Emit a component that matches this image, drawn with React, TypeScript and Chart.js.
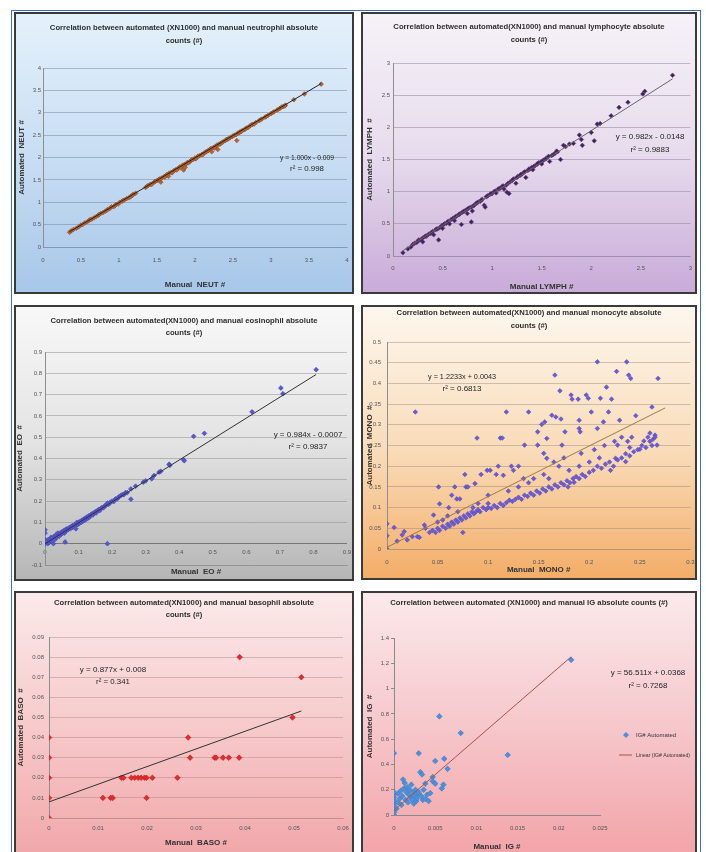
import React, { useEffect, useRef } from "react";
import { Chart, registerables } from "chart.js";
Chart.register(...registerables);

const FONT = '"Liberation Sans Narrow", "Liberation Sans", Arial, sans-serif';

// ---------- DATA ----------
const neutManual = [0.35,0.37,0.44,0.47,0.55,0.58,0.61,0.64,0.67,0.7,0.73,0.76,0.79,0.82,0.85,0.88,0.9,0.93,0.96,0.99,1.01,1.04,1.07,1.1,1.13,1.16,1.19,1.22,1.35,1.38,1.41,1.44,1.47,1.5,1.52,1.55,1.56,1.59,1.62,1.65,1.66,1.69,1.72,1.75,1.78,1.8,1.83,1.85,1.86,1.88,1.9,1.93,1.95,1.98,2.0,2.03,2.06,2.09,2.12,2.15,2.18,2.2,2.22,2.24,2.27,2.3,2.31,2.34,2.37,2.4,2.43,2.46,2.49,2.52,2.55,2.56,2.59,2.62,2.65,2.68,2.72,2.76,2.8,2.84,2.88,2.92,2.96,3.0,3.04,3.08,3.12,3.16,3.19,3.3,3.44,3.66,
  0.4,0.5,0.52,0.62,0.74,0.84,0.95,1.05,1.15,1.18,1.37,1.43,1.48,1.53,1.6,1.63,1.7,1.73,1.76,1.81,1.84,1.87,1.91,1.96,2.01,2.04,2.1,2.14,2.17,2.21,2.26,2.29,2.33,2.36,2.41,2.44,2.5,2.54,2.58,2.61,2.66,2.7,2.74,2.78,2.86,2.94,3.02,3.1,3.14,3.18];
const neutAuto = [0.33,0.36,0.42,0.45,0.54,0.56,0.6,0.62,0.65,0.68,0.71,0.75,0.77,0.8,0.84,0.86,0.9,0.9,0.95,0.96,1.0,1.02,1.05,1.08,1.1,1.14,1.18,1.2,1.33,1.37,1.4,1.42,1.46,1.48,1.5,1.45,1.54,1.57,1.6,1.58,1.65,1.67,1.7,1.73,1.76,1.79,1.8,1.72,1.84,1.85,1.89,1.9,1.94,1.96,1.99,2.01,2.04,2.07,2.1,2.13,2.16,2.19,2.13,2.22,2.25,2.18,2.29,2.32,2.35,2.38,2.41,2.44,2.47,2.5,2.38,2.54,2.57,2.6,2.62,2.66,2.7,2.74,2.78,2.82,2.86,2.9,2.94,2.98,3.02,3.06,3.1,3.14,3.17,3.29,3.42,3.64,
  0.39,0.49,0.5,0.61,0.73,0.82,0.93,1.04,1.12,1.16,1.36,1.4,1.47,1.52,1.56,1.62,1.66,1.71,1.72,1.77,1.83,1.78,1.88,1.95,1.97,2.03,2.06,2.12,2.15,2.2,2.21,2.28,2.3,2.34,2.4,2.42,2.48,2.51,2.55,2.58,2.64,2.67,2.73,2.75,2.84,2.92,3.0,3.08,3.13,3.15];
const neutTrendX = [0.35, 3.66];
const neutTrendY = [0.341, 3.651];

const lymphManual = [0.1,0.15,0.18,0.2,0.22,0.24,0.26,0.28,0.3,0.3,0.32,0.34,0.36,0.38,0.4,0.41,0.43,0.45,0.46,0.47,0.49,0.5,0.52,0.54,0.56,0.57,0.59,0.61,0.62,0.64,0.66,0.68,0.69,0.7,0.72,0.74,0.75,0.77,0.79,0.79,0.8,0.82,0.84,0.86,0.88,0.9,0.92,0.93,0.94,0.96,0.98,1.0,1.02,1.04,1.06,1.08,1.1,1.12,1.14,1.15,1.17,1.18,1.2,1.22,1.24,1.26,1.28,1.3,1.32,1.34,1.36,1.38,1.4,1.41,1.43,1.45,1.47,1.49,1.5,1.52,1.55,1.58,1.6,1.63,1.66,1.69,1.72,1.74,1.78,1.82,1.88,1.9,1.91,2.0,2.03,2.06,2.09,2.2,2.28,2.37,2.52,2.54,2.82,
  0.25,0.33,0.39,0.44,0.51,0.55,0.6,0.63,0.67,0.71,0.76,0.81,0.85,0.89,0.95,0.99,1.03,1.07,1.11,1.16,1.21,1.25,1.29,1.33,1.37,1.42,1.46,1.51,1.54,1.57,1.62,1.65];
const lymphAuto = [0.05,0.11,0.14,0.18,0.2,0.21,0.25,0.25,0.28,0.22,0.3,0.31,0.34,0.35,0.38,0.33,0.41,0.42,0.25,0.44,0.47,0.43,0.5,0.51,0.54,0.5,0.57,0.59,0.55,0.62,0.64,0.66,0.49,0.68,0.7,0.72,0.66,0.75,0.53,0.76,0.7,0.79,0.82,0.84,0.85,0.88,0.79,0.76,0.92,0.94,0.96,0.97,1.0,0.98,1.04,1.05,1.08,1.04,1.1,0.99,0.97,1.15,1.17,1.2,1.13,1.24,1.25,1.27,1.3,1.22,1.33,1.35,1.38,1.34,1.4,1.42,1.45,1.46,1.43,1.49,1.52,1.47,1.56,1.59,1.62,1.5,1.72,1.7,1.74,1.75,1.88,1.81,1.72,1.92,1.79,2.05,2.06,2.18,2.31,2.39,2.52,2.56,2.81,
  0.23,0.31,0.37,0.42,0.49,0.53,0.58,0.61,0.65,0.69,0.74,0.78,0.83,0.87,0.93,0.97,1.01,1.05,1.09,1.13,1.19,1.22,1.27,1.31,1.35,1.39,1.44,1.48,1.51,1.55,1.58,1.63];
const lymphTrendX = [0.1, 2.82];
const lymphTrendY = [0.083, 2.754];

const eoManual = [0,0,0,0,0.005,0.008,0.01,0.012,0.015,0.018,0.02,0.022,0.025,0.027,0.03,0.032,0.035,0.038,0.04,0.042,0.045,0.048,0.05,0.052,0.055,0.058,0.06,0.06,0.063,0.065,0.068,0.07,0.072,0.075,0.078,0.08,0.082,0.085,0.088,0.09,0.092,0.095,0.098,0.1,0.102,0.105,0.108,0.11,0.113,0.115,0.118,0.12,0.123,0.125,0.128,0.13,0.133,0.136,0.14,0.143,0.146,0.15,0.153,0.156,0.16,0.163,0.166,0.17,0.174,0.178,0.182,0.186,0.186,0.19,0.195,0.2,0.205,0.21,0.215,0.22,0.225,0.23,0.235,0.24,0.245,0.256,0.256,0.27,0.293,0.3,0.318,0.325,0.34,0.345,0.37,0.372,0.413,0.415,0.443,0.475,0.617,0.703,0.709,0.808];
const eoAuto = [0.0,0.02,0.05,0.065,0.01,0.0,0.02,0.005,0.015,0.03,0.01,0.025,0.0,0.035,0.02,0.04,0.03,0.05,0.04,0.035,0.05,0.045,0.055,0.048,0.06,0.05,0.008,0.065,0.06,0.07,0.065,0.07,0.075,0.07,0.08,0.075,0.085,0.08,0.09,0.085,0.07,0.1,0.09,0.1,0.095,0.105,0.1,0.11,0.105,0.115,0.11,0.12,0.115,0.125,0.12,0.13,0.125,0.135,0.14,0.135,0.145,0.15,0.145,0.155,0.16,0.155,0.165,0.17,0.168,0.178,0.18,0.0,0.19,0.185,0.195,0.2,0.198,0.21,0.21,0.22,0.225,0.23,0.23,0.24,0.24,0.209,0.257,0.27,0.289,0.295,0.305,0.32,0.336,0.34,0.373,0.368,0.394,0.39,0.504,0.518,0.619,0.731,0.704,0.817];
const eoTrendX = [0, 0.808];
const eoTrendY = [-0.0007, 0.7944];

const monoManual = [0,0,0,0.007,0.01,0.015,0.017,0.02,0.028,0.037,0.038,0.042,0.046,0.051,0.052,0.061,0.064,0.067,0.069,0.072,0.077,0.078,0.08,0.087,0.089,0.093,0.099,0.102,0.1,0.108,0.11,0.115,0.112,0.114,0.118,0.123,0.125,0.13,0.136,0.14,0.135,0.149,0.149,0.153,0.156,0.158,0.155,0.158,0.163,0.166,0.167,0.171,0.173,0.172,0.176,0.182,0.183,0.189,0.19,0.19,0.191,0.192,0.179,0.185,0.197,0.199,0.202,0.208,0.208,0.211,0.214,0.217,0.221,0.222,0.219,0.227,0.226,0.23,0.228,0.237,0.239,0.241,0.236,0.246,0.25,0.254,0.262,0.267,0.268,
  0.16,0.17,0.18,0.2,0.21,0.19,0.165,0.175,0.205,0.215,0.225,0.232,0.238,0.24,0.242,0.258,0.26,0.263,0.265,0.12,0.13,0.14,0.145,0.155,0.1,0.09,0.085,0.07,0.06,0.055,0.05,0.03,0.032,0.025,
  0.045,0.048,0.05,0.052,0.055,0.058,0.06,0.062,0.064,0.066,0.068,0.07,0.072,0.074,0.075,0.076,0.078,0.08,0.082,0.084,0.086,0.088,0.09,0.092,0.095,0.098,0.1,0.103,0.106,0.109,0.112,0.115,0.118,0.121,0.124,0.127,0.13,0.133,0.136,0.139,0.142,0.145,0.148,0.151,0.154,0.157,0.16,0.163,0.166,0.169,0.172,0.175,0.178,0.181,0.184,0.187,0.19,0.193,0.196,0.2,0.204,0.208,0.212,0.216,0.22,0.224,0.228,0.232,0.236,0.24,0.244,0.248,0.252,0.256,0.26,0.262,0.265];
const monoAuto = [0,0.061,0.032,0.052,0.019,0.034,0.042,0.022,0.331,0.058,0.05,0.04,0.082,0.15,0.109,0.1,0.13,0.15,0.121,0.121,0.18,0.15,0.15,0.158,0.268,0.18,0.19,0.19,0.13,0.18,0.2,0.178,0.268,0.268,0.331,0.2,0.19,0.2,0.251,0.331,0.17,0.251,0.283,0.301,0.307,0.267,0.231,0.219,0.323,0.42,0.319,0.382,0.251,0.314,0.283,0.372,0.362,0.362,0.311,0.291,0.283,0.231,0.15,0.161,0.372,0.364,0.331,0.291,0.452,0.364,0.307,0.391,0.19,0.362,0.331,0.429,0.219,0.311,0.251,0.452,0.42,0.412,0.211,0.322,0.241,0.261,0.343,0.251,0.412,
  0.17,0.2,0.19,0.21,0.22,0.2,0.21,0.22,0.24,0.25,0.26,0.27,0.26,0.245,0.27,0.27,0.28,0.265,0.275,0.14,0.15,0.16,0.17,0.18,0.11,0.11,0.1,0.09,0.08,0.07,0.065,0.03,0.028,0.03,
  0.045,0.04,0.05,0.045,0.055,0.05,0.06,0.055,0.065,0.06,0.07,0.065,0.075,0.07,0.04,0.08,0.075,0.085,0.08,0.09,0.085,0.09,0.095,0.09,0.1,0.095,0.1,0.098,0.105,0.1,0.11,0.105,0.112,0.118,0.115,0.12,0.125,0.12,0.13,0.127,0.135,0.13,0.14,0.135,0.145,0.14,0.15,0.145,0.155,0.15,0.16,0.155,0.165,0.16,0.17,0.175,0.17,0.18,0.175,0.185,0.19,0.2,0.195,0.205,0.21,0.2,0.215,0.22,0.23,0.225,0.235,0.24,0.25,0.245,0.26,0.25,0.27];
const monoTrendX = [0, 0.275];
const monoTrendY = [0.0043, 0.3407];

const basoManual = [0,0,0,0,0,0.011,0.0126,0.013,0.0199,0.0148,0.0152,0.0168,0.0175,0.0182,0.0188,0.0195,0.0199,0.0211,0.0262,0.0284,0.0288,0.0338,0.0341,0.0355,0.0367,0.0388,0.0389,0.0497,0.0515];
const basoAuto = [0,0.01,0.02,0.03,0.04,0.01,0.01,0.01,0.01,0.02,0.02,0.02,0.02,0.02,0.02,0.02,0.02,0.02,0.02,0.04,0.03,0.03,0.03,0.03,0.03,0.03,0.08,0.05,0.07];
const basoTrendX = [0, 0.0515];
const basoTrendY = [0.008, 0.0532];

const igManual = [0,0,0,0,0,0,0,0,0,0,0,0.0003,0.0005,0.0005,0.0007,0.0008,0.0009,0.001,0.0011,0.0012,0.0013,0.0014,0.0015,0.0016,0.0017,0.0018,0.0019,0.002,0.0021,0.0022,0.0023,0.0024,0.0025,0.0026,0.0027,0.0028,0.0029,0.003,0.003,0.0032,0.0033,0.0034,0.0035,0.0036,0.0038,0.0038,0.004,0.0042,0.0044,0.0047,0.0047,0.005,0.005,0.0055,0.0058,0.006,0.0061,0.0065,0.0081,0.0138,0.0215];
const igAuto = [0.0,0.02,0.04,0.06,0.08,0.1,0.12,0.14,0.16,0.18,0.488,0.05,0.1,0.17,0.13,0.19,0.08,0.15,0.28,0.21,0.253,0.12,0.18,0.22,0.1,0.16,0.2,0.14,0.24,0.12,0.18,0.09,0.15,0.2,0.11,0.133,0.17,0.181,0.488,0.339,0.15,0.32,0.12,0.2,0.248,0.128,0.16,0.11,0.173,0.301,0.267,0.248,0.427,0.78,0.21,0.24,0.445,0.365,0.648,0.475,1.227];
const igTrendX = [0, 0.0215];
const igTrendY = [0.0368, 1.2518];

// ---------- PANELS ----------
type Cfg = any;

const panels: Cfg[] = [
  {
    key: "neut", box: [14, 12, 340, 282],
    bg: "linear-gradient(to bottom, #e4f1fb 0%, #c9def3 50%, #a7c7e9 100%)",
    title: ["Correlation between automated (XN1000) and manual neutrophil absolute", "counts (#)"],
    titleC1: 14, titleLH: 13,
    xTitle: "Manual  NEUT #", yTitle: "Automated  NEUT #",
    x: [0, 4, 0.5], y: [0, 4, 0.5],
    area: { l: 27, r: 331, t: 54, b: 233 },
    xTickC: 246, xTitleC: 271, yTitleCx: 6, yTickRight: 25,
    xs: neutManual, ys: neutAuto, tx: neutTrendX, ty: neutTrendY,
    pColor: "#b8642e", pBorder: "#8c4a22", pRadius: 2.3, tColor: "#222",
    grid: "rgba(120,140,170,0.55)",
    eq: { x: 291, ys: [144, 155], w: [54, 34], lines: ["y = 1.000x - 0.009", "r\u00b2 = 0.998"] },
  },
  {
    key: "lymph", box: [361, 12, 336, 282],
    bg: "linear-gradient(to bottom, #f6f2f8 0%, #e7dced 50%, #c9abd9 100%)",
    title: ["Correlation between automated(XN1000) and manual lymphocyte absolute", "counts (#)"],
    titleC1: 13, titleLH: 13,
    xTitle: "Manual LYMPH #", yTitle: "Automated  LYMPH  #",
    x: [0, 3, 0.5], y: [0, 3, 0.5],
    area: { l: 30, r: 328, t: 49, b: 242 },
    xTickC: 254, xTitleC: 273, yTitleCx: 7, yTickRight: 27,
    xs: lymphManual, ys: lymphAuto, tx: lymphTrendX, ty: lymphTrendY,
    pColor: "#2c2868", pBorder: "#8a3a66", pRadius: 2.3, tColor: "#666",
    grid: "rgba(140,130,160,0.5)",
    eq: { x: 287, ys: [123, 136], w: [70, 40], lines: ["y = 0.982x - 0.0148", "r\u00b2 = 0.9883"] },
  },
  {
    key: "eo", box: [14, 305, 340, 276],
    bg: "linear-gradient(to bottom, #f8f8f8 0%, #e3e3e3 50%, #b6b6b6 100%)",
    title: ["Correlation between automated(XN1000) and manual eosinophil absolute", "counts (#)"],
    titleC1: 14, titleLH: 12,
    xTitle: "Manual  EO #", yTitle: "Automated  EO  #",
    x: [0, 0.9, 0.1], y: [-0.1, 0.9, 0.1],
    area: { l: 29, r: 331, t: 45, b: 258 },
    xTickC: 245, xTickMirror: true, xTitleC: 265, yTitleCx: 4, yTickRight: 26,
    xs: eoManual, ys: eoAuto, tx: eoTrendX, ty: eoTrendY,
    pColor: "#5757d2", pBorder: "#4343b0", pRadius: 2.4, tColor: "#333",
    grid: "rgba(130,130,130,0.45)", zeroLine: "#777",
    eq: { x: 292, ys: [128, 140], w: [74, 40], lines: ["y = 0.984x - 0.0007", "r\u00b2 = 0.9837"] },
  },
  {
    key: "mono", box: [361, 305, 336, 275],
    bg: "linear-gradient(to bottom, #fdf7ee 0%, #f9dab6 55%, #f3ad68 100%)",
    title: ["Correlation between automated(XN1000) and manual monocyte absolute", "counts (#)"],
    titleC1: 6, titleLH: 12.5,
    xTitle: "Manual  MONO #", yTitle: "Automated  MONO  #",
    x: [0, 0.3, 0.05], y: [0, 0.5, 0.05],
    area: { l: 24, r: 330, t: 35, b: 242 },
    xTickC: 255, xTitleC: 263, yTitleCx: 7, yTickRight: 18,
    xs: monoManual, ys: monoAuto, tx: monoTrendX, ty: monoTrendY,
    pColor: "#6a5cd2", pBorder: "#5646bd", pRadius: 2.3, tColor: "#9a7a4c",
    grid: "rgba(150,135,120,0.45)",
    eq: { x: 99, ys: [70, 82], w: [68, 40], lines: ["y = 1.2233x + 0.0043", "r\u00b2 = 0.6813"] },
  },
  {
    key: "baso", box: [14, 591, 340, 270],
    bg: "linear-gradient(to bottom, #fce9e9 0%, #f7cacb 50%, #f1a6a9 100%)",
    title: ["Correlation between automated(XN1000) and manual basophil absolute", "counts (#)"],
    titleC1: 10, titleLH: 12,
    xTitle: "Manual  BASO #", yTitle: "Automated  BASO  #",
    x: [0, 0.06, 0.01], y: [0, 0.09, 0.01],
    area: { l: 33, r: 327, t: 44, b: 225 },
    xTickC: 235, xTitleC: 250, yTitleCx: 5, yTickRight: 28,
    xs: basoManual, ys: basoAuto, tx: basoTrendX, ty: basoTrendY,
    pColor: "#e22c2c", pBorder: "#c01e1e", pRadius: 2.8, tColor: "#333",
    grid: "rgba(170,130,130,0.45)",
    eq: { x: 97, ys: [77, 89], w: [70, 34], lines: ["y = 0.877x + 0.008", "r\u00b2 = 0.341"] },
  },
  {
    key: "ig", box: [361, 591, 336, 270],
    bg: "linear-gradient(to bottom, #fbe9eb 0%, #f6c7cb 50%, #f2a3a8 100%)",
    title: ["Correlation between automated (XN1000) and manual IG absolute counts (#)"],
    titleC1: 10, titleLH: 12,
    xTitle: "Manual  IG #", yTitle: "Automated  IG  #",
    x: [0, 0.025, 0.005], y: [0, 1.4, 0.2],
    area: { l: 31, r: 237, t: 45, b: 222 },
    xTickC: 235, xTitleC: 254, yTitleCx: 7, yTickRight: 26,
    xs: igManual, ys: igAuto, tx: igTrendX, ty: igTrendY,
    pColor: "#4a90da", pBorder: "#3a7cc4", pRadius: 2.8, tColor: "#a5524e",
    grid: null, tickMarks: true,
    eq: { x: 285, ys: [80, 93], w: [76, 40], lines: ["y = 56.511x + 0.0368", "r\u00b2 = 0.7268"] },
    legend: { mx: 263, y1: 142, y2: 162, tx: 273, w: [40, 54], labels: ["IG# Automated", "Linear (IG# Automated)"] },
  },
];

const fmt = (v: any) => String(Number(Number(v).toFixed(5)));

const annotPlugin = {
  id: "annot",
  afterDatasetsDraw(chart: any, _args: any, opts: any) {
    const ctx = chart.ctx;
    ctx.save();
    if (opts.eq) {
      ctx.font = `8px ${FONT}`;
      ctx.fillStyle = "#1e1e1e";
      ctx.textAlign = "center";
      ctx.textBaseline = "middle";
      opts.eq.lines.forEach((t: string, i: number) => ctx.fillText(t, opts.eq.x, opts.eq.ys[i], opts.eq.w[i]));
    }
    if (opts.legend) {
      const L = opts.legend;
      ctx.fillStyle = opts.pColor;
      ctx.beginPath();
      ctx.moveTo(L.mx, L.y1 - 3); ctx.lineTo(L.mx + 3, L.y1); ctx.lineTo(L.mx, L.y1 + 3); ctx.lineTo(L.mx - 3, L.y1);
      ctx.closePath(); ctx.fill();
      ctx.strokeStyle = opts.tColor; ctx.lineWidth = 1;
      ctx.beginPath(); ctx.moveTo(L.mx - 7, L.y2); ctx.lineTo(L.mx + 6, L.y2); ctx.stroke();
      ctx.font = `6px ${FONT}`;
      ctx.fillStyle = "#333";
      ctx.textAlign = "left";
      ctx.textBaseline = "middle";
      ctx.fillText(L.labels[0], L.tx, L.y1, L.w[0]);
      ctx.fillText(L.labels[1], L.tx, L.y2, L.w[1]);
    }
    ctx.restore();
  },
};

const zeroPad = (s: any) => { s.paddingLeft = 0; s.paddingRight = 0; s.paddingTop = 0; s.paddingBottom = 0; };

function Panel({ cfg }: { cfg: Cfg }) {
  const ref = useRef<HTMLCanvasElement>(null);
  const W = cfg.box[2] - 4;
  const H = cfg.box[3] - 4;
  useEffect(() => {
    const a = cfg.area;
    const lh = cfg.titleLH;
    const n = cfg.title.length;
    const titleSize = 7.7;
    const tTop = Math.max(0, cfg.titleC1 - lh / 2);
    const tBottom = a.t - tTop - n * lh;
    const axSize = 8, axLH = axSize * 1.2;
    const tickSize = 6, tickLH = tickSize * 1.2;
    const yTl = cfg.tickMarks ? 3 : 0;
    const xPad = cfg.xTickMirror ? a.b - cfg.xTickC - tickLH / 2 : cfg.xTickC - a.b - tickLH / 2;
    const xTitlePadBottom = H - cfg.xTitleC - axLH / 2;
    const yTitlePad = cfg.yTitleCx - axLH / 2;
    const points = cfg.xs.map((x: number, i: number) => ({ x, y: cfg.ys[i] }));
    const trend = cfg.tx.map((x: number, i: number) => ({ x, y: cfg.ty[i] }));
    const tickFont = { family: FONT, size: tickSize };
    const axFont = { family: FONT, size: axSize, weight: "bold" as const };
    const chart = new Chart(ref.current!, {
      type: "scatter",
      data: {
        datasets: [
          {
            label: "trend", data: trend, showLine: true, borderColor: cfg.tColor,
            borderWidth: 1, pointRadius: 0, fill: false,
          },
          {
            label: "points", data: points, pointStyle: "rectRot", pointRadius: cfg.pRadius,
            backgroundColor: cfg.pColor, borderColor: cfg.pBorder, borderWidth: 0.6,
          },
        ],
      },
      options: {
        responsive: false,
        animation: false,
        events: [],
        layout: { padding: 0 },
        plugins: {
          legend: { display: false },
          tooltip: { enabled: false },
          title: {
            display: true, text: cfg.title, color: "#2e2e2e",
            font: { family: FONT, size: titleSize, weight: "bold", lineHeight: lh / titleSize },
            padding: { top: tTop, bottom: tBottom },
          },
          annot: { eq: cfg.eq, legend: cfg.legend, pColor: cfg.pColor, tColor: cfg.tColor },
        } as any,
        scales: {
          x: {
            type: "linear", min: cfg.x[0], max: cfg.x[1],
            ticks: {
              stepSize: cfg.x[2], autoSkip: false, maxRotation: 0, padding: xPad, mirror: !!cfg.xTickMirror,
              font: tickFont, color: "#555", callback: fmt,
            },
            grid: { display: false, drawTicks: false },
            border: { display: true, color: cfg.grid ? cfg.grid : "#8a8a8a", width: 1 },
            title: { display: true, text: cfg.xTitle, font: axFont, color: "#333", padding: { top: 0, bottom: xTitlePadBottom } },
            afterFit: (s: any) => { s.height = H - a.b; zeroPad(s); },
          },
          y: {
            type: "linear", min: cfg.y[0], max: cfg.y[1],
            ticks: {
              stepSize: cfg.y[2], autoSkip: false, padding: a.l - cfg.yTickRight - yTl,
              font: tickFont, color: "#555", callback: fmt,
            },
            grid: cfg.grid
              ? {
                  display: true, drawTicks: false, lineWidth: 1,
                  color: (c: any) => (cfg.zeroLine && c.tick && c.tick.value === 0 ? cfg.zeroLine : cfg.grid),
                }
              : { display: true, drawOnChartArea: false, drawTicks: true, tickLength: 3, color: "#8a8a8a" },
            border: { display: true, color: cfg.grid ? "#8e8e8e" : "#8a8a8a", width: 1 },
            title: { display: true, text: cfg.yTitle, font: axFont, color: "#333", padding: { top: yTitlePad, bottom: 0 } },
            afterFit: (s: any) => { s.width = a.l; zeroPad(s); },
          },
          spacer: {
            type: "linear", position: "right", display: true,
            ticks: { display: false },
            grid: { display: false, drawTicks: false },
            border: { display: false },
            title: { display: false },
            afterFit: (s: any) => { s.width = W - a.r; zeroPad(s); },
          },
        },
      },
      plugins: [annotPlugin as any],
    } as any);
    return () => chart.destroy();
  }, [cfg]);
  return (
    <div
      style={{
        position: "absolute", left: cfg.box[0], top: cfg.box[1], width: cfg.box[2], height: cfg.box[3],
        boxSizing: "border-box", border: "2px solid #3a3a3a", background: cfg.bg,
      }}
    >
      <canvas ref={ref} width={W} height={H} style={{ display: "block", width: W, height: H }} />
    </div>
  );
}

export default function App() {
  return (
    <div style={{ position: "absolute", left: 0, top: 0, width: 706, height: 852, overflow: "hidden", background: "#fff" }}>
      <div
        style={{
          position: "absolute", left: 11, top: 10, width: 690, height: 860, boxSizing: "border-box",
          borderLeft: "1.5px solid #3f6fc4", borderTop: "1.5px solid #3f6fc4", borderRight: "1.5px solid #3f6fc4",
        }}
      />
      {panels.map((p) => (
        <Panel key={p.key} cfg={p} />
      ))}
    </div>
  );
}
